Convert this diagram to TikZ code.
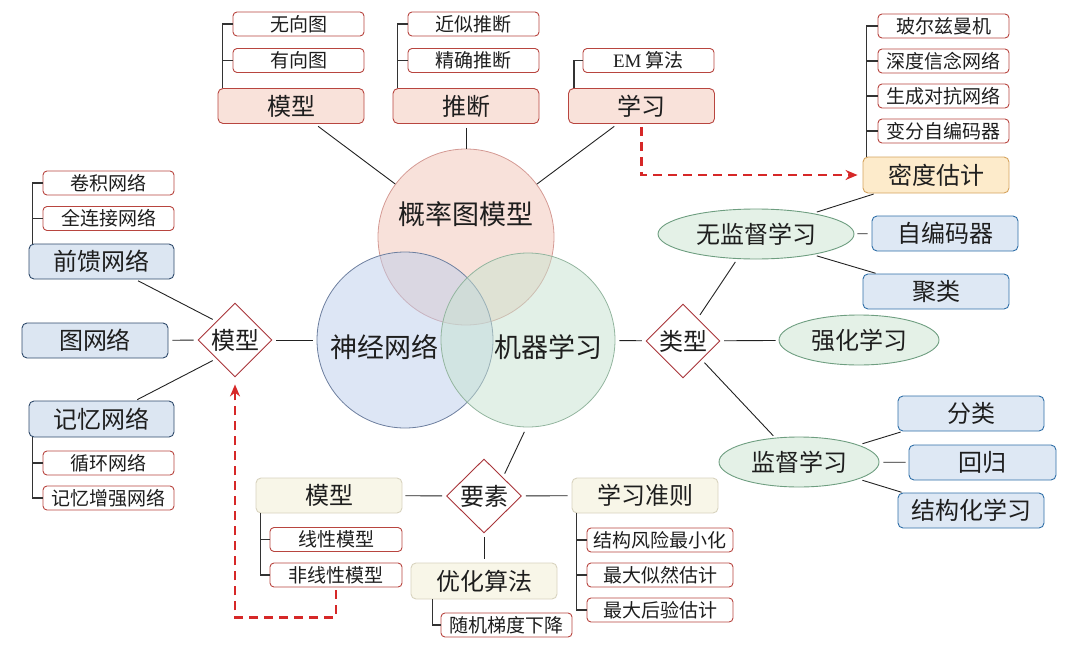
\documentclass[tikz,border=0pt]{standalone}
\usepackage{fontspec}
\setmainfont{Liberation Serif}
\newfontfamily\cjk{Noto Sans CJK SC}
\usetikzlibrary{shapes.geometric,arrows.meta,calc}
\definecolor{txt}{HTML}{1E1E1E}
\definecolor{redb}{HTML}{B8453F}
\definecolor{pinkf}{HTML}{F9E2DA}
\definecolor{blueb}{HTML}{2F4A6B}
\definecolor{bluef}{HTML}{DCE6F2}
\definecolor{blueb2}{HTML}{2F6FA8}
\definecolor{bluef2}{HTML}{DEE8F4}
\definecolor{greenb}{HTML}{6E9E80}
\definecolor{greenf}{HTML}{E4F1E7}
\definecolor{creamb}{HTML}{D8D3BF}
\definecolor{creamf}{HTML}{F8F6E8}
\definecolor{orab}{HTML}{D5A35E}
\definecolor{oraf}{HTML}{FDEBCB}
\definecolor{diab}{HTML}{A8353A}
\definecolor{linec}{HTML}{222222}
\definecolor{brc}{HTML}{333333}
\definecolor{dashred}{HTML}{D62828}
\definecolor{vtopf}{HTML}{F2C4B6}
\definecolor{vtopb}{HTML}{D49A94}
\definecolor{vleftf}{HTML}{BCCDEB}
\definecolor{vleftb}{HTML}{6D7F9F}
\definecolor{vrightf}{HTML}{C6E2CF}
\definecolor{vrightb}{HTML}{93B59F}
\begin{document}
\begin{tikzpicture}[x=1pt,y=-1pt,
  box/.style={rectangle, rounded corners=5pt, inner sep=0pt, line width=0.9pt, text=txt,
    font=\cjk\fontsize{24}{24}\selectfont, minimum width=146, minimum height=35},
  pinkbox/.style={box, draw=redb, fill=pinkf},
  bluebox/.style={box, draw=blueb, fill=bluef},
  bluebox2/.style={box, draw=blueb2, fill=bluef2},
  creambox/.style={box, draw=creamb, fill=creamf},
  orangebox/.style={box, draw=orab, fill=oraf},
  sub/.style={rectangle, rounded corners=4pt, inner sep=0pt, line width=0.9pt, draw=redb,
    fill=white, text=txt, font=\cjk\fontsize{19}{19}\selectfont, minimum width=131, minimum height=24},
  ell/.style={ellipse, inner sep=0pt, draw=greenb, fill=greenf, line width=0.9pt, text=txt,
    minimum width=160, minimum height=50, font=\cjk\fontsize{24}{24}\selectfont},
  dia/.style={diamond, aspect=1, inner sep=0pt, draw=diab, fill=white, line width=0.9pt, text=txt,
    minimum width=74, minimum height=74, font=\cjk\fontsize{24}{24}\selectfont},
  venn/.style={circle, inner sep=0pt, minimum size=176, line width=0.8pt, fill opacity=0.5},
  vlabel/.style={inner sep=0pt, text=txt, font=\cjk\fontsize{27}{27}\selectfont},
  con/.style={line width=0.9pt, draw=linec, shorten <=4pt, shorten >=4pt},
  br/.style={line width=1.2pt, draw=brc},
  reddash/.style={line width=2.3pt, draw=dashred, dash pattern=on 9pt off 6pt,
    -{Stealth[length=12pt,width=10pt]}}
]
\useasboundingbox (0,0) rectangle (1080,648);

% Venn
\node[venn, draw=vtopb, fill=vtopf] (cp) at (466,237) {};
\node[venn, draw=vleftb, fill=vleftf] (cn) at (405,340) {};
\node[venn, draw=vrightb, fill=vrightf, minimum size=174] (cm) at (528,340) {};
\node[vlabel] (tp) at (466,214) {概率图模型};
\node[vlabel] (tn) at (384,347) {神经网络};
\node[vlabel] (tm) at (548,347) {机器学习};

% top
\node[pinkbox] (m1) at (291,106) {模型};
\node[sub] (m1a) at (298.5,24) {无向图};
\node[sub] (m1b) at (298.5,60.5) {有向图};
\node[pinkbox] (i1) at (466,106) {推断};
\node[sub] (i1a) at (473.5,24) {近似推断};
\node[sub] (i1b) at (473.5,60.5) {精确推断};
\node[pinkbox] (l1) at (641.5,106) {学习};
\node[sub] (l1a) at (648.5,60.5) {{\rmfamily EM} 算法};

% density
\node[orangebox, minimum height=36] (d0) at (936,175) {密度估计};
\node[sub] (d1) at (943.5,26) {玻尔兹曼机};
\node[sub] (d2) at (943.5,61) {深度信念网络};
\node[sub] (d3) at (943.5,96) {生成对抗网络};
\node[sub] (d4) at (943.5,131) {变分自编码器};

% right
\node[ell, minimum width=196] (u) at (756,234) {无监督学习};
\node[bluebox2] (ae) at (945,233.5) {自编码器};
\node[bluebox2] (cl) at (936,291.5) {聚类};
\node[dia] (t) at (683,341) {类型};
\node[ell] (rl) at (859,340) {强化学习};
\node[ell] (sl) at (799,462) {监督学习};
\node[bluebox2] (cls) at (971,413.5) {分类};
\node[bluebox2, minimum width=147] (reg) at (982.5,462.5) {回归};
\node[bluebox2] (st) at (971,510.5) {结构化学习};

% left
\node[bluebox, minimum width=145] (ff) at (101.5,261.5) {前馈网络};
\node[sub] (ff1) at (108.5,183) {卷积网络};
\node[sub] (ff2) at (108.5,218.5) {全连接网络};
\node[bluebox] (gn) at (95,340.5) {图网络};
\node[dia] (md) at (235,340) {模型};
\node[bluebox, minimum width=145, minimum height=36] (mem) at (101.5,419) {记忆网络};
\node[sub] (mem1) at (108.5,463) {循环网络};
\node[sub] (mem2) at (108.5,498) {记忆增强网络};

% bottom
\node[creambox] (bm) at (329,495.5) {模型};
\node[sub, minimum width=132] (bm1) at (336,539.5) {线性模型};
\node[sub, minimum width=132] (bm2) at (336,575) {非线性模型};
\node[dia, minimum width=75] (ys) at (484,496) {要素};
\node[creambox] (lc) at (645,495.5) {学习准则};
\node[sub, minimum width=146] (lc1) at (660,540) {结构风险最小化};
\node[sub, minimum width=146] (lc2) at (660,575) {最大似然估计};
\node[sub, minimum width=146] (lc3) at (660,610) {最大后验估计};
\node[creambox, minimum height=36] (oa) at (484,581) {优化算法};
\node[sub] (oa1) at (506.5,625) {随机梯度下降};

% connectors to Venn
\draw[con, shorten >=0pt] (m1) -- (cp);
\draw[con, shorten >=0pt] (i1) -- (cp);
\draw[con, shorten >=0pt] (l1) -- (cp);
\draw[con] (md) -- (cn);
\draw[con] (cm) -- (t);
\draw[con, shorten <=5pt] (cm.-91) -- (ys.north east);

% left connectors
\draw[con, shorten >=3pt] (md.north west) -- ([xshift=34pt]ff.south);
\draw[con, shorten >=2pt] (md.south west) -- ([xshift=34pt]mem.north);
\draw[con] (gn) -- (md);

% bottom connectors
\draw[con, shorten <=3pt] (bm) -- (ys);
\draw[con] (ys) -- (lc);
\draw[con] (ys) -- (oa);

% right connectors
\draw[con, shorten >=3pt] (t.57) -- ([xshift=-19pt]u.south);
\draw[con, shorten >=3pt] (t) -- (rl);
\draw[con, shorten >=1pt] (t.south east) -- ([xshift=-25pt]sl.north);
\draw[con, shorten >=2pt] (u.20) -- ([xshift=13pt]d0.south west);
\draw[con, shorten <=3pt] (u) -- (ae);
\draw[con, shorten >=1pt] (u.-20) -- ([xshift=14pt]cl.north west);
\draw[con, shorten >=2pt] (sl.16) -- ([xshift=5pt]cls.south west);
\draw[con, shorten >=3pt] (sl) -- (reg);
\draw[con, shorten >=1pt] (sl.-16) -- ([xshift=5pt]st.north west);

% brackets
\coordinate (b1) at ([xshift=5pt]m1.north west);
\draw[br] (m1a.west) -| (b1);
\draw[br] (m1b.west) -- (m1b.west -| b1);
\coordinate (b2) at ([xshift=5pt]i1.north west);
\draw[br] (i1a.west) -| (b2);
\draw[br] (i1b.west) -- (i1b.west -| b2);
\coordinate (b3) at ([xshift=6pt]l1.north west);
\draw[br] (l1a.west) -| (b3);
\coordinate (b4) at ([xshift=4pt]d0.north west);
\draw[br] (d1.west) -| (b4);
\draw[br] (d2.west) -- (d2.west -| b4);
\draw[br] (d3.west) -- (d3.west -| b4);
\draw[br] (d4.west) -- (d4.west -| b4);
\coordinate (b5) at ([xshift=4pt]ff.north west);
\draw[br] (ff1.west) -| (b5);
\draw[br] (ff2.west) -- (ff2.west -| b5);
\coordinate (b6) at ([xshift=4pt]mem.south west);
\draw[br] (b6) |- (mem2.west);
\draw[br] (mem1.west -| b6) -- (mem1.west);
\coordinate (b7) at ([xshift=5pt]bm.south west);
\draw[br] (b7) |- (bm2.west);
\draw[br] (bm1.west -| b7) -- (bm1.west);
\coordinate (b8) at ([xshift=5pt]lc.south west);
\draw[br] (b8) |- (lc3.west);
\draw[br] (lc1.west -| b8) -- (lc1.west);
\draw[br] (lc2.west -| b8) -- (lc2.west);
\coordinate (b9) at ([xshift=22pt]oa.south west);
\draw[br] (b9) |- (oa1.west);

% red dashed arrows
\draw[reddash, shorten <=3pt, shorten >=5pt] (l1.south) |- (d0.west);
\coordinate (dd) at ([yshift=-30pt]bm2.south);
\draw[reddash, shorten <=3pt, shorten >=7pt] (bm2.south) -- (dd) -| (md.south);
\end{tikzpicture}
\end{document}
